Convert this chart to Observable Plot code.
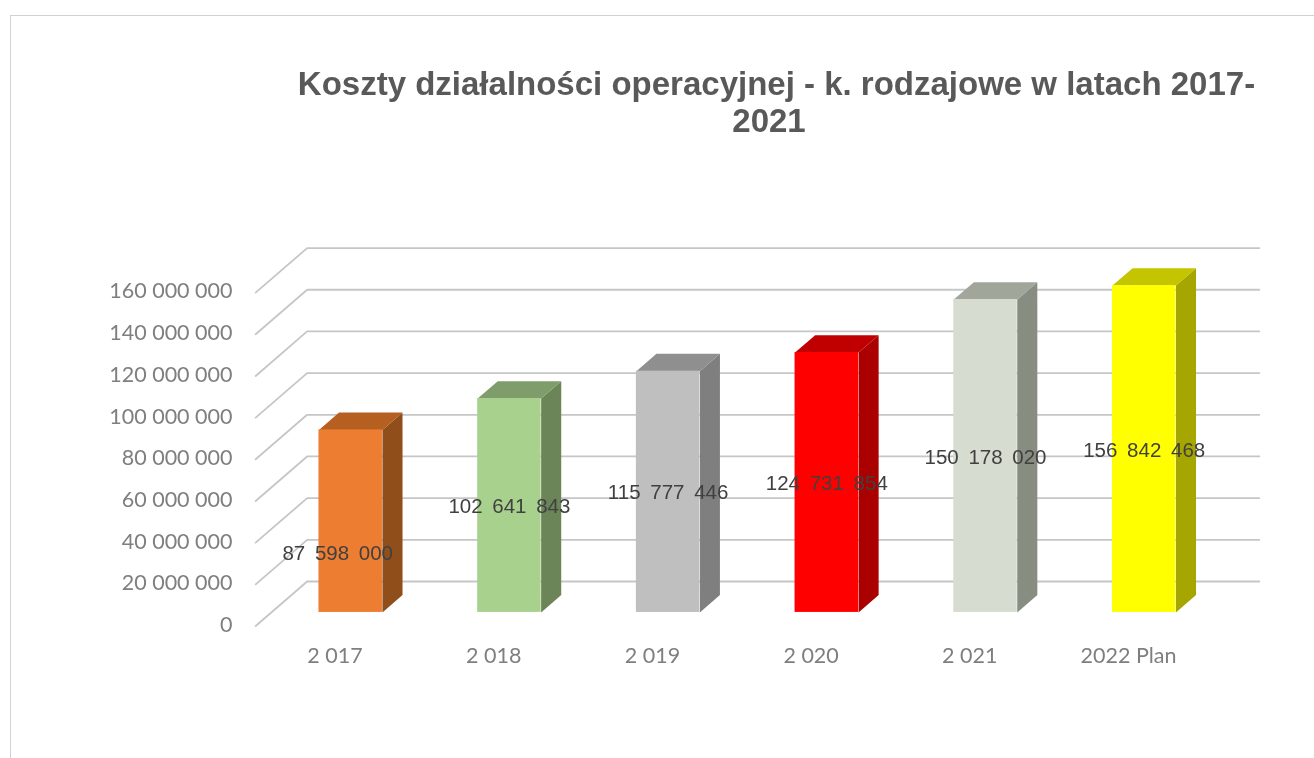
<!DOCTYPE html>
<html lang="pl">
<head>
<meta charset="utf-8">
<script src="https://cdn.jsdelivr.net/npm/d3@7"></script>
<script src="https://cdn.jsdelivr.net/npm/@observablehq/plot@0.6"></script>
<style>
  html, body { margin: 0; padding: 0; background: #fff; overflow: hidden; }
  #page { position: relative; width: 1314px; height: 758px; filter: blur(0.45px); }
  #frame { position: absolute; left: 9.5px; top: 14.5px; right: 0; bottom: -4px; border: 1px solid #d2d2d2; border-width: 1.5px 0 0 1.5px; }
  #title { position: relative; height: 150px; box-sizing: border-box; padding: 65px 0 0 290px; width: 973px;
           font: bold 33px "Liberation Sans", Arial, sans-serif; color: #595959; line-height: 37px; }
  #title span { display: block; width: 973px; text-align: center; white-space: nowrap; }
  #title span + span { padding-right: 15px; box-sizing: border-box; }
  #chart { position: relative; }
  #chart svg { display: block; }
  .value-labels text { word-spacing: 4px; }
</style>
</head>
<body>
<div id="page">
  <div id="frame"></div>
  <div id="title"><span>Koszty działalności operacyjnej - k. rodzajowe w latach 2017-</span><span>2021</span></div>
  <div id="chart"></div>
</div>
<script>
const categories = ["2 017", "2 018", "2 019", "2 020", "2 021", "2022 Plan"];
const values = [87598000, 102641843, 115777446, 124731854, 150178020, 156842468];
const yTicks = [0, 20000000, 40000000, 60000000, 80000000, 100000000, 120000000, 140000000, 160000000];
const frontColors = ["#ed7d31", "#a9d18e", "#bfbfbf", "#ff0000", "#d6dccf", "#ffff00"];
const topColors = ["#b55f20", "#7f9d6b", "#8f8f8f", "#c00000", "#a1a69b", "#c4c400"];
const sideColors = ["#904f1a", "#6b8558", "#7f7f7f", "#aa0000", "#888d82", "#a6a600"];

const spaced = d3.formatLocale({decimal: ",", thousands: " ", grouping: [3], currency: ["", ""]}).format(",d");

// Pseudo-3D depth: d = 0 is the front edge of the floor, d = 1 the back wall.
const depthX = 0.3245;       // in category steps
const depthY = 21360000;     // in value units
const barFront = 0.305, barBack = 0.695, barHalf = 0.2;
const at = (i, v, d) => ({x: i + d * depthX, y: v + d * depthY});

const bars = values.map((value, i) => ({
  i, value, category: categories[i],
  front: frontColors[i], top: topColors[i], side: sideColors[i],
  x1: at(i - barHalf, 0, barFront).x, x2: at(i + barHalf, 0, barFront).x,
  y1: at(i, 0, barFront).y, y2: at(i, value, barFront).y,
  cx: at(i, 0, barFront).x, cy: at(i, value / 2, barFront).y
}));

const polygon = (face, color, corners) => corners.map(([i, v, d]) => ({...at(i, v, d), face, color}));
const sideFaces = bars.flatMap(b => polygon("side" + b.i, b.side, [
  [b.i + barHalf, 0, barFront], [b.i + barHalf, b.value, barFront],
  [b.i + barHalf, b.value, barBack], [b.i + barHalf, 0, barBack]]));
const topFaces = bars.flatMap(b => polygon("top" + b.i, b.top, [
  [b.i - barHalf, b.value, barFront], [b.i + barHalf, b.value, barFront],
  [b.i + barHalf, b.value, barBack], [b.i - barHalf, b.value, barBack]]));
const gridLines = yTicks.flatMap(v => [
  {...at(-0.5, v, 0), v}, {...at(-0.5, v, 1), v}, {...at(5.5, v, 1), v}]);

const tickFont = {fontFamily: "Lato, sans-serif", fontSize: 21.5, fill: "#7f7f7f"};
const valueFont = {fontFamily: "Liberation Sans, Arial, sans-serif", fontSize: 20.5, fill: "#404040", className: "value-labels"};

const chart = Plot.plot({
  width: 1314, height: 608,
  marginLeft: 240, marginRight: 0, marginTop: 0, marginBottom: 118,
  style: {background: "transparent", overflow: "visible"},
  x: {type: "linear", domain: [0, 5], range: [334.5, 334.5 + 5 * 158.7], axis: null},
  y: {type: "linear", domain: [0, 160000000], range: [475.5, 142.1], axis: null},
  color: {type: "identity"},
  marks: [
    Plot.line(gridLines, {x: "x", y: "y", z: "v", stroke: "#c6c6c6", strokeWidth: 1.8, curve: "linear"}),
    Plot.line(sideFaces, {x: "x", y: "y", z: "face", fill: "color", stroke: "none", curve: "linear"}),
    Plot.line(topFaces, {x: "x", y: "y", z: "face", fill: "color", stroke: "none", curve: "linear"}),
    Plot.rect(bars, {x1: "x1", x2: "x2", y1: "y1", y2: "y2", fill: "front"}),
    Plot.axisY({ticks: yTicks, tickFormat: spaced, tickSize: 0, tickPadding: 8, anchor: "left", label: null, dy: -1, ...tickFont}),
    Plot.axisX({ticks: d3.range(categories.length), tickFormat: i => categories[i], tickSize: 0, tickPadding: 7, anchor: "bottom", label: null, ...tickFont}),
    Plot.text(bars.slice(1), {x: "cx", y: "cy", text: d => spaced(d.value), dy: 1, ...valueFont}),
    Plot.text(bars.slice(0, 1), {x: "cx", y: "cy", text: d => spaced(d.value), dx: -13, dy: 32, ...valueFont})
  ]
});
document.getElementById("chart").appendChild(chart);
</script>
</body>
</html>
